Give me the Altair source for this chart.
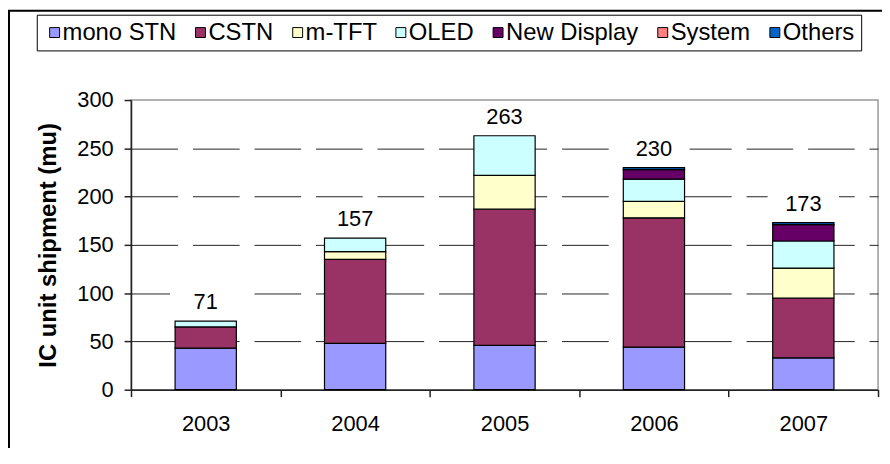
import altair as alt
import pandas as pd

FONT = "Liberation Sans, Arial, sans-serif"

years = ["2003", "2004", "2005", "2006", "2007"]
series = ["mono STN", "CSTN", "m-TFT", "OLED", "New Display", "System", "Others"]
colors = ["#9999FF", "#993366", "#FFFFCC", "#CCFFFF", "#660066", "#FF8080", "#0066CC"]

mono_stn = [43, 48, 46, 44, 33]
cstn = [22, 87, 141, 134, 62]
m_tft = [0, 8, 35, 17, 31]
oled = [6, 14, 41, 23, 28]
new_display = [0, 0, 0, 10, 17]
system = [0, 0, 0, 0, 0]
others = [0, 0, 0, 2, 2]
totals = [71, 157, 263, 230, 173]
y_ticks = [0, 50, 100, 150, 200, 250, 300]
y_title = "IC unit shipment (mu)"

values_by_series = [mono_stn, cstn, m_tft, oled, new_display, system, others]
rows = []
for si, (name, vals) in enumerate(zip(series, values_by_series)):
    for yr, v in zip(years, vals):
        if v > 0:
            rows.append({"year": yr, "series": name, "value": v, "order": si})
df = pd.DataFrame(rows)
df_tot = pd.DataFrame({"year": years, "total": totals})

x_enc = alt.X(
    "year:N",
    sort=years,
    title=None,
    scale=alt.Scale(domain=years, paddingInner=0, paddingOuter=0),
    axis=alt.Axis(
        tickBand="extent",
        labelAngle=0,
        grid=False,
        tickSize=7,
        labelFontSize=22,
        labelPadding=17,
    ),
)

bars = alt.Chart(df).mark_bar(
    stroke="black", strokeWidth=1.2, width=alt.RelativeBandSize(0.41)
).encode(
    x=x_enc,
    y=alt.Y(
        "value:Q",
        stack="zero",
        scale=alt.Scale(domain=[0, 300], nice=False),
        title=y_title,
        axis=alt.Axis(
            values=y_ticks,
            titleFontSize=24,
            titleFontWeight="bold",
            titlePadding=16,
            labelFontSize=22,
            labelPadding=11,
            tickSize=7,
            grid=True,
            gridDash=[47, 15],
            gridColor="#222222",
            gridWidth=1,
            gridOpacity=alt.condition("datum.value >= 300 || datum.value <= 0", alt.value(0), alt.value(1)),
        ),
    ),
    color=alt.Color(
        "series:N",
        scale=alt.Scale(domain=series, range=colors),
        legend=alt.Legend(
            title=None,
            orient="none",
            legendX=-95,
            legendY=-86,
            direction="horizontal",
            columns=7,
            symbolType="square",
            symbolSize=100,
            symbolStrokeColor="black",
            symbolStrokeWidth=1,
            symbolOpacity=1,
            labelFontSize=24,
            labelFont=FONT,
            labelColor="black",
            labelLimit=400,
            labelOffset=alt.ExprRef(expr="-4"),
            columnPadding=12,
            padding=6,
            strokeColor="black",
            fillColor="white",
        ),
    ),
    order=alt.Order("order:Q", sort="ascending"),
)

label_boxes = alt.Chart(df_tot).mark_point(
    shape="M-1,-0.36H1V0.36H-1Z", size=5184, filled=True, fill="white",
    stroke=None, opacity=1, yOffset=-20,
).encode(
    x=alt.X("year:N", sort=years, title=None),
    y=alt.Y("total:Q", title=y_title),
)

labels = alt.Chart(df_tot).mark_text(
    fontSize=22, font=FONT, color="black", baseline="alphabetic", dy=-12
).encode(
    x=alt.X("year:N", sort=years, title=None),
    y=alt.Y("total:Q", title=y_title),
    text=alt.Text("total:Q"),
)

frame = alt.Chart(pd.DataFrame({"a": [0]})).mark_rect(
    fill=None, stroke="black", strokeWidth=2
).encode(
    x=alt.value(-123), x2=alt.value(900), y=alt.value(-90), y2=alt.value(600)
)

chart = alt.layer(frame, bars, label_boxes, labels).properties(
    width=753,
    height=292,
    autosize=alt.AutoSizeParams(type="none"),
    padding={"left": 124, "top": 91, "right": 4, "bottom": 57},
    background="white",
).configure_view(
    stroke="#999999", strokeWidth=1.5
).configure_axis(
    labelFont=FONT,
    titleFont=FONT,
    labelColor="black",
    titleColor="black",
    domainColor="#222222",
    tickColor="#222222",
    domainWidth=1.5,
    tickWidth=1.5,
)

chart.save("out.html", embed_options={"renderer": "svg", "actions": False})
